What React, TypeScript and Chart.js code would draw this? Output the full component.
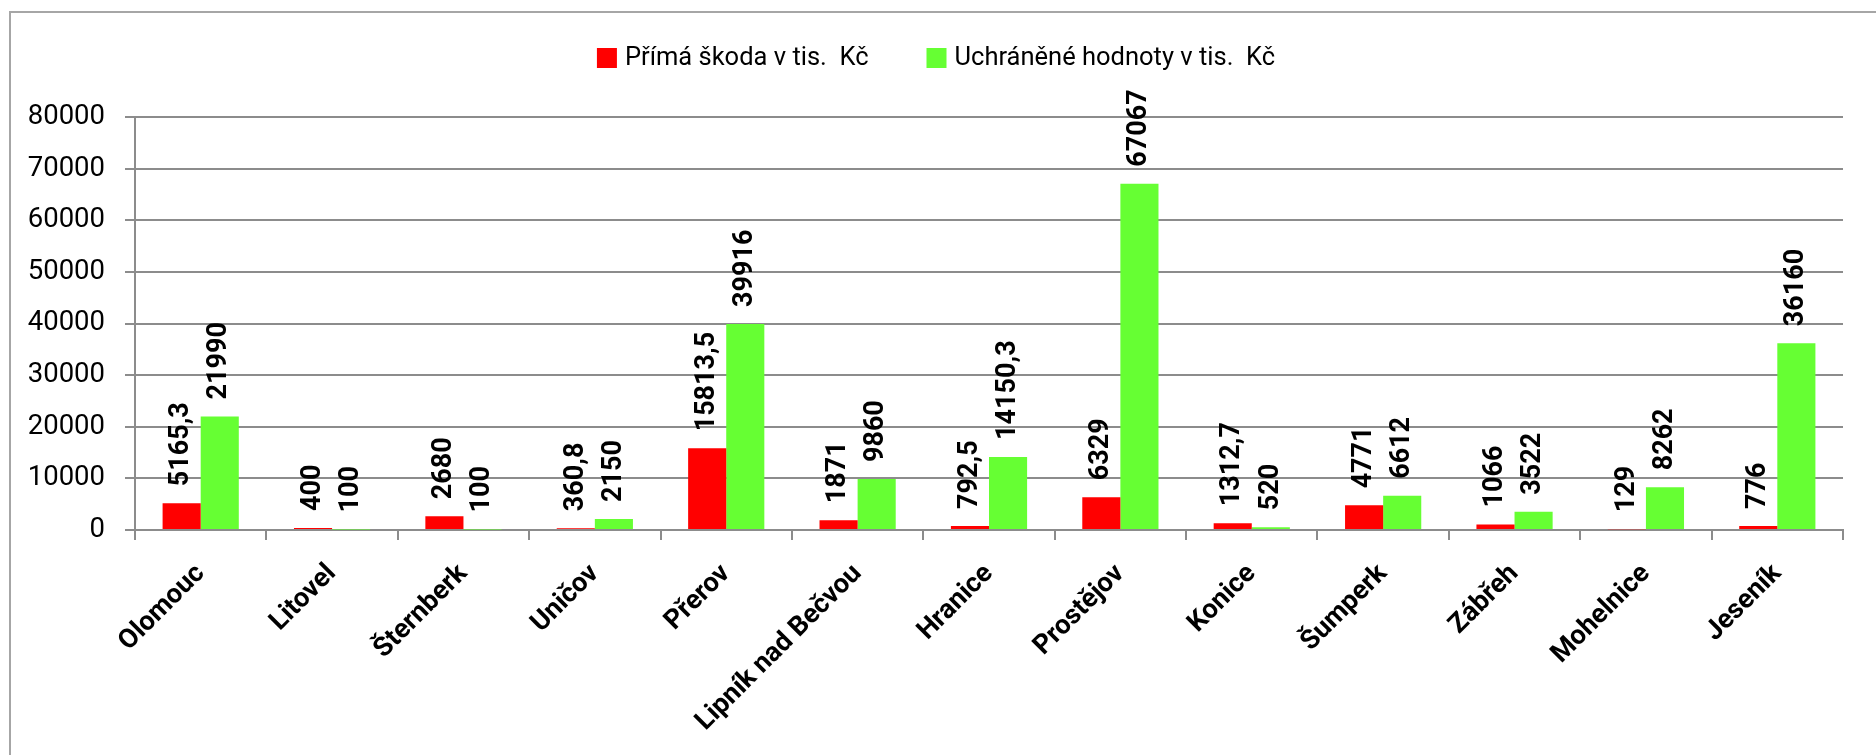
import React, { useEffect, useRef } from "react";
import { Chart, registerables } from "chart.js";

Chart.register(...registerables);

const categories = [
  "Olomouc",
  "Litovel",
  "Šternberk",
  "Uničov",
  "Přerov",
  "Lipník nad Bečvou",
  "Hranice",
  "Prostějov",
  "Konice",
  "Šumperk",
  "Zábřeh",
  "Mohelnice",
  "Jeseník",
];
const directDamage = [5165.3, 400, 2680, 360.8, 15813.5, 1871, 792.5, 6329, 1312.7, 4771, 1066, 129, 776];
const savedValues = [21990, 100, 100, 2150, 39916, 9860, 14150.3, 67067, 520, 6612, 3522, 8262, 36160];
const seriesNames = ["Přímá škoda v tis.  Kč", "Uchráněné hodnoty v tis.  Kč"];
const seriesColors = ["#FF0000", "#66FF33"];
const yMin = 0;
const yMax = 80000;
const yStep = 10000;

const FONT = "Roboto, 'DejaVu Sans', sans-serif";
const GRID = "#8c8c8c";

const formatValue = (v: number) => String(v).replace(".", ",");

const frameAndLegendPlugin = {
  id: "frameAndLegend",
  beforeDraw(chart: any) {
    const ctx = chart.ctx;
    ctx.save();
    ctx.fillStyle = "#ffffff";
    ctx.fillRect(0, 0, chart.width, chart.height);
    ctx.strokeStyle = "#a6a6a6";
    ctx.lineWidth = 2;
    ctx.beginPath();
    ctx.moveTo(10, chart.height);
    ctx.lineTo(10, 12);
    ctx.lineTo(chart.width, 12);
    ctx.stroke();
    ctx.restore();
  },
  afterDraw(chart: any) {
    const ctx = chart.ctx;
    ctx.save();
    ctx.font = `25.5px ${FONT}`;
    const box = 20;
    const gapText = 8;
    const gapItems = 58;
    const widths = seriesNames.map((n) => ctx.measureText(n).width);
    const total = widths.reduce((a, w) => a + box + gapText + w, 0) + gapItems * (seriesNames.length - 1);
    let x = 936 - total / 2;
    const cy = 58;
    ctx.textBaseline = "middle";
    ctx.textAlign = "left";
    seriesNames.forEach((name, i) => {
      ctx.fillStyle = seriesColors[i];
      ctx.fillRect(x, cy - box / 2, box, box);
      ctx.fillStyle = "#000000";
      ctx.fillText(name, x + box + gapText, cy + 1);
      x += box + gapText + widths[i] + gapItems;
    });
    ctx.restore();
  },
};

const valueLabelPlugin = {
  id: "valueLabels",
  afterDatasetsDraw(chart: any) {
    const ctx = chart.ctx;
    ctx.save();
    ctx.font = `bold 27px ${FONT}`;
    ctx.fillStyle = "#000000";
    ctx.textAlign = "left";
    ctx.textBaseline = "middle";
    chart.data.datasets.forEach((ds: any, di: number) => {
      const meta = chart.getDatasetMeta(di);
      meta.data.forEach((bar: any, i: number) => {
        const v = ds.data[i];
        ctx.save();
        ctx.translate(bar.x, bar.y - 17);
        ctx.rotate(-Math.PI / 2);
        ctx.fillText(formatValue(v), 0, 0);
        ctx.restore();
      });
    });
    ctx.restore();
  },
};

export default function App() {
  const canvasRef = useRef<HTMLCanvasElement | null>(null);

  useEffect(() => {
    if (!canvasRef.current) return;
    const chart = new Chart(canvasRef.current, {
      type: "bar",
      data: {
        labels: categories,
        datasets: [
          {
            label: seriesNames[0],
            data: directDamage,
            backgroundColor: seriesColors[0],
            borderWidth: 0,
            categoryPercentage: 0.58,
            barPercentage: 1.0,
          },
          {
            label: seriesNames[1],
            data: savedValues,
            backgroundColor: seriesColors[1],
            borderWidth: 0,
            categoryPercentage: 0.58,
            barPercentage: 1.0,
          },
        ],
      },
      options: {
        animation: false,
        responsive: false,
        maintainAspectRatio: false,
        layout: { padding: { top: 117, right: 33, left: 0, bottom: 0 } },
        plugins: {
          legend: { display: false },
          tooltip: { enabled: false },
        },
        scales: {
          x: {
            offset: true,
            grid: {
              display: true,
              offset: true,
              drawOnChartArea: false,
              drawTicks: true,
              tickLength: 10,
              color: GRID,
              lineWidth: 2,
            },
            border: { display: true, color: GRID, width: 2 },
            ticks: {
              autoSkip: false,
              minRotation: 45,
              maxRotation: 45,
              padding: 18,
              color: "#000000",
              font: { family: FONT, size: 27, weight: "bold" },
            },
            afterFit: (scale: any) => {
              scale.height = 225;
            },
          },
          y: {
            min: yMin,
            max: yMax,
            grid: {
              color: GRID,
              lineWidth: 2,
              drawTicks: true,
              tickLength: 10,
            },
            border: { display: true, color: GRID, width: 2 },
            ticks: {
              stepSize: yStep,
              padding: 20,
              color: "#000000",
              font: { family: FONT, size: 27.5 },
              callback: (v: any) => String(v),
            },
            afterFit: (scale: any) => {
              scale.width = 135;
            },
          },
        },
      },
      plugins: [frameAndLegendPlugin, valueLabelPlugin],
    } as any);
    return () => chart.destroy();
  }, []);

  return (
    <div style={{ position: "absolute", left: 0, top: 0, width: 1876, height: 755 }}>
      <canvas ref={canvasRef} width={1876} height={755} style={{ width: 1876, height: 755, display: "block" }} />
    </div>
  );
}
